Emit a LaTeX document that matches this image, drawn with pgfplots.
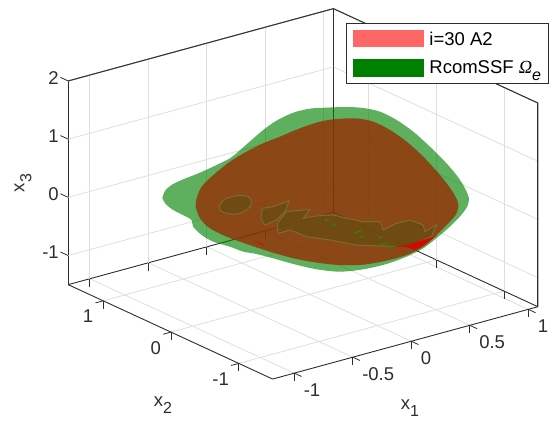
\documentclass[border=0pt]{standalone}
\usepackage{pgfplots}
\usepackage{fontspec}
\pgfplotsset{compat=1.18}
\setmainfont{Liberation Sans}
\newfontfamily\greekit[ItalicFont=Liberation Serif Italic]{Liberation Serif}
\definecolor{axc}{RGB}{45,45,45}
\definecolor{grn}{RGB}{0,128,0}
\definecolor{brn}{RGB}{152,42,0}
\definecolor{pat}{RGB}{100,78,18}
\definecolor{pato}{RGB}{122,108,52}
\definecolor{legred}{RGB}{255,102,102}
\newcommand{\fsz}{\fontsize{18.5bp}{20bp}\selectfont}
\newcommand{\sub}[1]{\raisebox{-7bp}{\fontsize{16bp}{16bp}\selectfont #1}}
\begin{document}
\begin{tikzpicture}
\useasboundingbox (0,0) rectangle (552bp,425bp);
\begin{axis}[
  at={(309.6bp,218bp)}, anchor=origin,
  x={(117bp,31.9bp)}, y={(-67.8bp,31.3bp)}, z={(0bp,58.2bp)},
  xmin=-1.185, xmax=1.082, ymin=-1.5, ymax=1.516, zmin=-1.5, zmax=2,
  clip=false,
  axis line style={draw=axc, line width=0.9bp},
  grid=major, major grid style={draw=black!13, line width=0.8bp},
  tick align=outside, major tick length=8bp, xtick pos=left, ytick pos=left,
  xticklabel pos=left, yticklabel pos=left, zticklabel pos=left,
  every tick/.style={draw=axc, line width=0.8bp},
  ztick style={draw=none},
  xtick={-1,-0.5,0,0.5,1}, ytick={-1,0,1}, ztick={-1,0,1,2},
  /pgf/number format/assume math mode=true,
  tick label style={font=\fsz, text=axc, inner sep=0pt},
  xticklabel style={anchor=north west, yshift=-7bp, xshift=2bp},
  yticklabel style={anchor=north east, yshift=-7bp, xshift=-2bp},
  zticklabel style={anchor=east, xshift=-2bp},
  label style={font=\fsz, text=axc, inner sep=0pt},
  xlabel={x\sub{1}}, ylabel={x\sub{2}}, zlabel={x\sub{3}},
  xlabel style={at={(axis cs:0.858,0,-3.925)}, anchor=center},
  ylabel style={at={(axis cs:-1.253,0,-2.715)}, anchor=center},
  zlabel style={at={(axis cs:-2.45,0,1.756)}, anchor=center},
  legend cell align=left,
  legend style={at={(axis cs:0.311,0,2.997)}, anchor=north west, draw=axc, line width=0.9bp,
    fill=white, font=\fsz, inner xsep=7bp, inner ysep=7bp, row sep=12bp, text=black,
    nodes={inner sep=0pt}},
  legend image code/.code={\fill[#1] (0bp,-8.7bp) rectangle (71bp,8.7bp);},
]
\addlegendimage{fill=legred, draw=none}
\addlegendentry{\hspace{5bp}\raisebox{-2bp}{i=30 A2}}
\addlegendimage{fill=grn, draw=none}
\addlegendentry{\hspace{5bp}RcomSSF {\greekit\itshape Ω}\sub{\itshape e}}
% back edges of the box
\draw[axc, line width=0.9bp] (axis cs:-1.185,1.516,2) -- (axis cs:1.082,1.516,2) -- (axis cs:1.082,-1.5,2) -- (axis cs:1.082,-1.5,-1.5);
% x3 ticks on the left edge
\draw[axc, line width=0.8bp] (axis cs:-1.185,1.516,-1) -- (axis cs:-1.185,1.63,-1);
\draw[axc, line width=0.8bp] (axis cs:-1.185,1.516,0) -- (axis cs:-1.185,1.63,0);
\draw[axc, line width=0.8bp] (axis cs:-1.185,1.516,1) -- (axis cs:-1.185,1.63,1);
\draw[axc, line width=0.8bp] (axis cs:-1.185,1.516,2) -- (axis cs:-1.185,1.63,2);
% RcomSSF Omega_e, green set
\addplot3[forget plot, smooth, draw=none, fill=grn, fill opacity=0.63] coordinates {
(-0.797,0.797,0.157) (-0.783,0.783,0.283) (-0.747,0.747,0.386) (-0.684,0.684,0.482)
(-0.593,0.593,0.596) (-0.503,0.503,0.727) (-0.431,0.431,0.840) (-0.386,0.386,0.955)
(-0.314,0.314,1.154) (-0.251,0.251,1.326) (-0.179,0.179,1.485) (-0.088,0.088,1.622)
(0.002,-0.002,1.690) (0.092,-0.092,1.706) (0.200,-0.200,1.716) (0.290,-0.290,1.698)
(0.381,-0.381,1.634) (0.471,-0.471,1.490) (0.561,-0.561,1.288) (0.651,-0.651,1.030)
(0.741,-0.741,0.742) (0.804,-0.804,0.502) (0.841,-0.841,0.312) (0.862,-0.862,0.140)
(0.853,-0.853,-0.003) (0.813,-0.813,-0.174) (0.759,-0.759,-0.346) (0.696,-0.696,-0.517)
(0.615,-0.615,-0.716) (0.525,-0.525,-0.858) (0.417,-0.417,-0.983) (0.290,-0.290,-1.074)
(0.164,-0.164,-1.113) (0.038,-0.038,-1.071) (-0.088,0.088,-0.978) (-0.197,0.197,-0.880)
(-0.287,0.287,-0.805) (-0.359,0.359,-0.763) (-0.431,0.431,-0.678) (-0.521,0.521,-0.591)
(-0.584,0.584,-0.475) (-0.630,0.630,-0.332) (-0.639,0.639,-0.216) (-0.675,0.675,-0.148)
(-0.738,0.738,-0.044) (-0.779,0.779,0.060) (-0.797,0.797,0.157)};
% i=30 A2, overlapping the green set
\addplot3[forget plot, smooth, draw=none, fill=brn, fill opacity=0.78] coordinates {
(-0.617,0.617,0.012) (-0.611,0.611,0.155) (-0.584,0.584,0.355) (-0.521,0.521,0.555)
(-0.431,0.431,0.783) (-0.341,0.341,0.955) (-0.251,0.251,1.097) (-0.161,0.161,1.210)
(-0.052,0.052,1.353) (0.056,-0.056,1.465) (0.146,-0.146,1.510) (0.254,-0.254,1.520)
(0.345,-0.345,1.462) (0.435,-0.435,1.319) (0.525,-0.525,1.118) (0.615,-0.615,0.859)
(0.705,-0.705,0.543) (0.768,-0.768,0.284) (0.804,-0.804,0.055) (0.795,-0.795,-0.117)
(0.759,-0.759,-0.260) (0.687,-0.687,-0.488) (0.615,-0.615,-0.688) (0.525,-0.525,-0.830)
(0.417,-0.417,-0.926) (0.290,-0.290,-0.994) (0.164,-0.164,-0.999) (0.038,-0.038,-0.956)
(-0.088,0.088,-0.881) (-0.215,0.215,-0.765) (-0.341,0.341,-0.632) (-0.449,0.449,-0.505)
(-0.539,0.539,-0.361) (-0.593,0.593,-0.189) (-0.617,0.617,0.012)};
% inner patches
\addplot3[forget plot, smooth, draw=pato, line width=1bp, fill=pat, fill opacity=0.7] coordinates {
(-0.489,0.489,0.011) (-0.467,0.467,0.125) (-0.395,0.395,0.199) (-0.332,0.332,0.181)
(-0.314,0.314,0.066) (-0.341,0.341,-0.048) (-0.395,0.395,-0.116) (-0.449,0.449,-0.104)
(-0.482,0.482,-0.058) (-0.489,0.489,0.011)};
\addplot3[forget plot, draw=pato, line width=1bp, fill=pat, fill opacity=0.7] coordinates {
(-0.256,0.256,-0.020) (-0.197,0.197,0.008) (-0.110,0.110,0.110) (-0.133,0.133,-0.079)
(-0.179,0.179,-0.221) (-0.242,0.242,-0.307) (-0.263,0.263,-0.192) (-0.256,0.256,-0.020)};
\addplot3[forget plot, draw=pato, line width=1bp, fill=pat, fill opacity=0.7] coordinates {
(-0.124,0.124,-0.079) (0.002,-0.002,-0.040) (-0.034,0.034,-0.195) (0.038,-0.038,-0.155)
(0.128,-0.128,-0.138) (0.200,-0.200,-0.197) (0.290,-0.290,-0.255) (0.381,-0.381,-0.256)
(0.399,-0.399,-0.399) (0.471,-0.471,-0.286) (0.543,-0.543,-0.229) (0.615,-0.615,-0.315)
(0.624,-0.624,-0.430) (0.687,-0.687,-0.316) (0.660,-0.660,-0.517) (0.525,-0.525,-0.687)
(0.381,-0.381,-0.674) (0.254,-0.254,-0.656) (0.110,-0.110,-0.568) (-0.016,0.016,-0.510)
(-0.106,0.106,-0.394) (-0.170,0.170,-0.450) (-0.175,0.175,-0.279) (-0.124,0.124,-0.079)};
% red slivers
\addplot3[forget plot, draw=none, fill=red!85!black, fill opacity=0.85] coordinates {
(0.444,-0.444,-0.687) (0.525,-0.525,-0.658) (0.684,-0.684,-0.505) (0.633,-0.633,-0.631)
(0.579,-0.579,-0.733) (0.525,-0.525,-0.698) (0.444,-0.444,-0.687)};
\addplot3[forget plot, draw=none, fill=red!85!black, fill opacity=0.85] coordinates {
(-0.301,0.301,-0.581) (-0.236,0.236,-0.680) (-0.269,0.269,-0.610) (-0.301,0.301,-0.581)};
% green specks
\addplot3[forget plot, draw=grn!70!brown, line width=1.1bp] coordinates {(0.079,-0.079,-0.212) (0.103,-0.103,-0.236)};
\addplot3[forget plot, draw=grn!70!brown, line width=1.1bp] coordinates {(0.119,-0.119,-0.327) (0.146,-0.146,-0.294)};
\addplot3[forget plot, draw=grn!70!brown, line width=1.1bp] coordinates {(0.245,-0.245,-0.455) (0.281,-0.281,-0.398)};
\addplot3[forget plot, draw=grn!70!brown, line width=1.1bp] coordinates {(0.272,-0.272,-0.524) (0.296,-0.296,-0.501)};
\addplot3[forget plot, draw=grn!70!brown, line width=1.1bp] coordinates {(0.372,-0.372,-0.542) (0.393,-0.393,-0.514)};
\addplot3[forget plot, draw=grn!70!brown, line width=1.1bp] coordinates {(0.381,-0.381,-0.674) (0.426,-0.426,-0.605)};
\addplot3[forget plot, draw=grn!70!brown, line width=1.1bp] coordinates {(0.426,-0.426,-0.697) (0.471,-0.471,-0.675)};
\end{axis}
\end{tikzpicture}
\end{document}
